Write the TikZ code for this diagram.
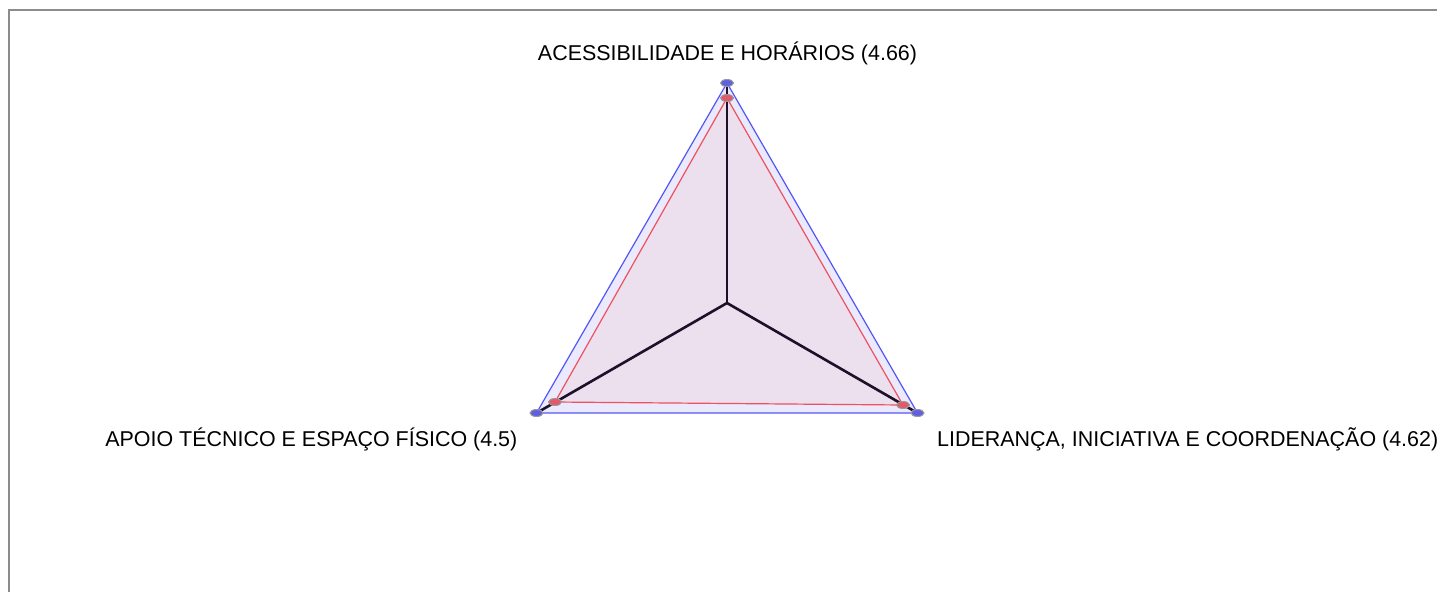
\documentclass[tikz,border=0pt]{standalone}
\usepackage{fontspec}
\setmainfont{Liberation Sans}
\definecolor{frame}{RGB}{140,140,140}
\definecolor{bluel}{RGB}{85,85,245}
\definecolor{redl}{RGB}{240,80,95}
\definecolor{bluefill}{RGB}{234,234,252}
\definecolor{purfill}{RGB}{236,223,238}
\definecolor{axisc}{RGB}{30,16,40}
\definecolor{bluemk}{RGB}{95,95,225}
\definecolor{redmk}{RGB}{225,90,105}
\tikzset{
  lbl/.style={font=\fontsize{21.45}{25}\selectfont, inner sep=0pt, anchor=base},
  axisline/.style={draw=axisc, line width=2.6pt},
  bluemark/.style={ellipse, draw=gray!80, line width=1pt, fill=bluemk, minimum width=13pt, minimum height=7pt, inner sep=0pt},
  redmark/.style={ellipse, draw=gray!80, line width=1pt, fill=redmk, minimum width=13pt, minimum height=7pt, inner sep=0pt}
}
\usetikzlibrary{shapes.geometric}
\begin{document}
\begin{tikzpicture}[x=1pt,y=-1pt]
\useasboundingbox (0,0) rectangle (1437,592);
% frame
\draw[frame, line width=2pt] (9,592) -- (9,10) -- (1437,10);
% coordinates
\coordinate (c) at (727,303);
\coordinate (bt) at (727,83);
\coordinate (bl) at (536.5,413);
\coordinate (br) at (917.5,413);
\coordinate (rt) at (727,98);
\coordinate (rl) at (555,402);
\coordinate (rr) at (903,405);
% fills
\fill[bluefill] (bt) -- (bl) -- (br) -- cycle;
\fill[purfill] (rt) -- (rl) -- (rr) -- cycle;
% axes
\draw[axisline] (c) -- (bt);
\draw[axisline] (c) -- (bl);
\draw[axisline] (c) -- (br);
% strokes
\draw[bluel, line width=1.2pt, line join=round] (bt) -- (bl) -- (br) -- cycle;
\draw[redl, line width=1.2pt, line join=round] (rt) -- (rl) -- (rr) -- cycle;
% markers
\node[bluemark] (mbt) at (bt) {};
\node[bluemark] (mbl) at (bl) {};
\node[bluemark] (mbr) at (br) {};
\node[redmark] (mrt) at (rt) {};
\node[redmark] (mrl) at (rl) {};
\node[redmark] (mrr) at (rr) {};
% labels
\node[lbl] (l1) at (727.5,60.5) {ACESSIBILIDADE E HORÁRIOS (4.66)};
\node[lbl, anchor=base east] (l2) at (517.5,446.5) {APOIO TÉCNICO E ESPAÇO FÍSICO (4.5)};
\node[lbl, anchor=base west] (l3) at (937,446.5) {LIDERANÇA, INICIATIVA E COORDENAÇÃO (4.62)};
\end{tikzpicture}
\end{document}
